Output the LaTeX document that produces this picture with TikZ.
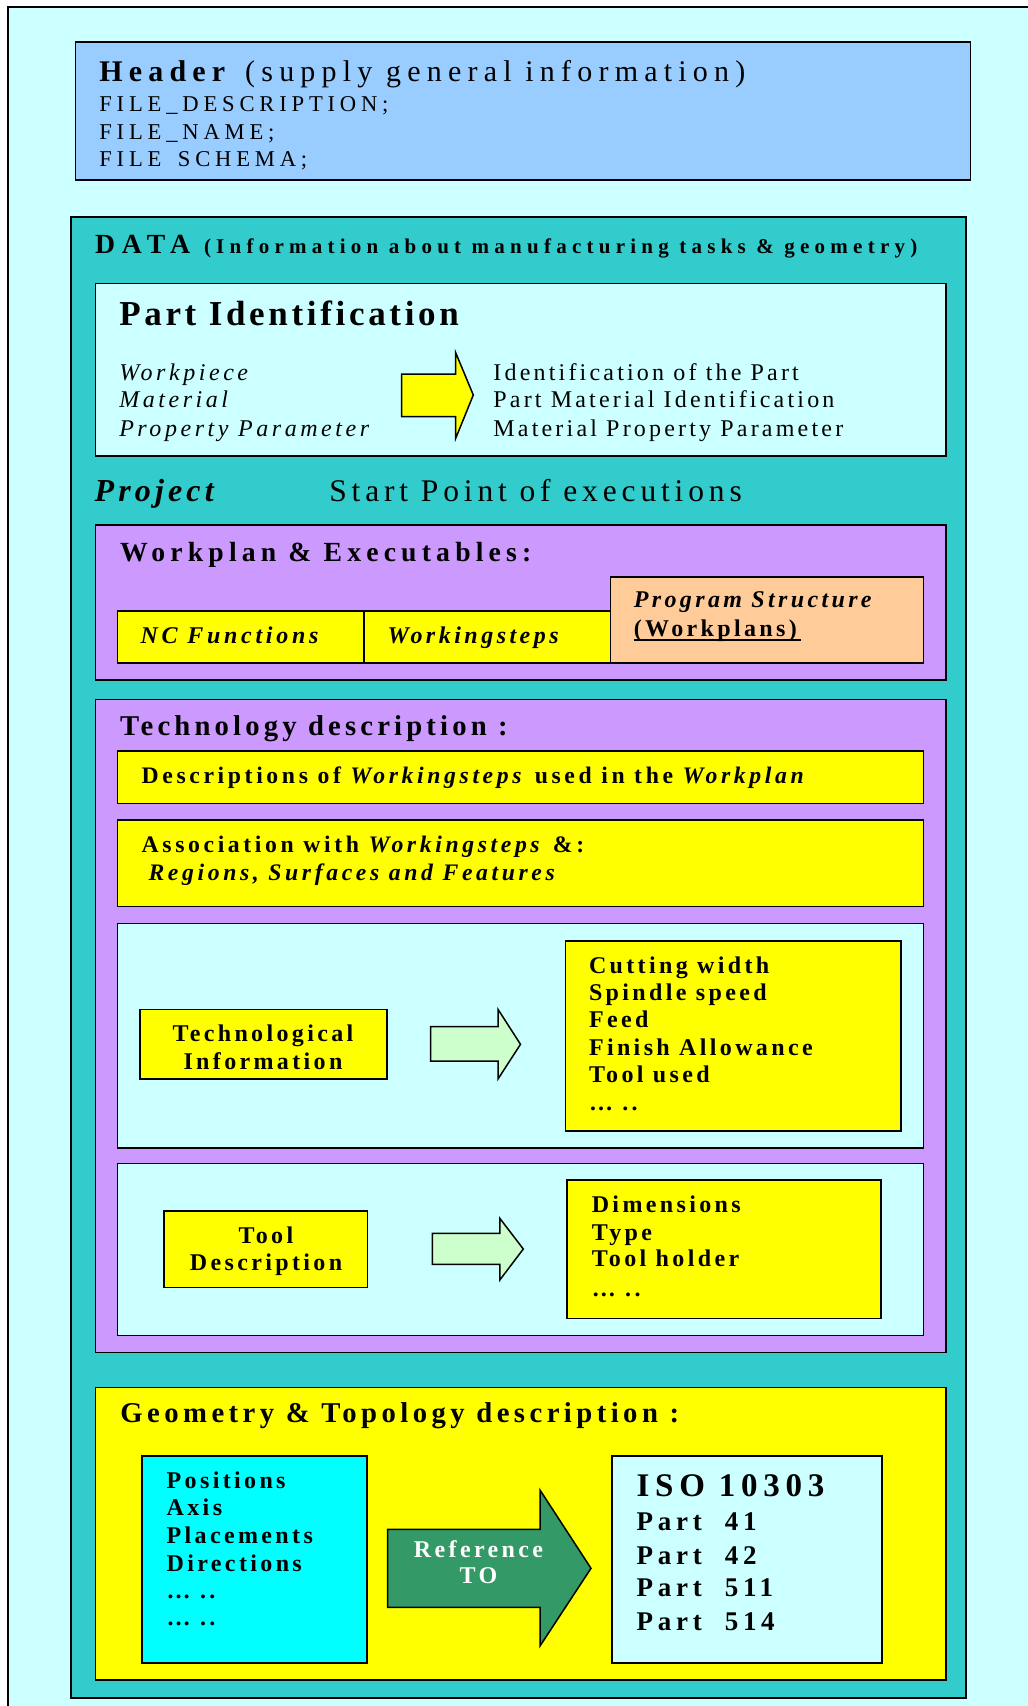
\documentclass[tikz,border=0pt]{standalone}
\usepackage{fontspec}
\setmainfont{Liberation Serif}
% size (pt) and tracking (percent of the size)
\newcommand\fz[2]{\fontsize{#1}{#1}\selectfont\addfontfeatures{LetterSpace=#2}}
% rectangle node given by its top-left and bottom-right corners
\newcommand\boxat[6]{\node[#2, anchor=north west, minimum width={(#5)-(#3)}, minimum height={(#6)-(#4)}] (#1) at (#3,#4) {};}
\definecolor{bgcyan}{HTML}{CCFFFF}
\definecolor{headblue}{HTML}{99CCFF}
\definecolor{dataTeal}{HTML}{33CCCC}
\definecolor{lilac}{HTML}{CC99FF}
\definecolor{peach}{HTML}{FFCC99}
\definecolor{paleGreen}{HTML}{CCFFCC}
\definecolor{brightCyan}{HTML}{00FFFF}
\definecolor{refGreen}{HTML}{339966}
\definecolor{brightYellow}{HTML}{FFFF00}
\begin{document}
\begin{tikzpicture}[x=1pt,y=-1pt,
  frame/.style={draw=black, line width=1.6pt, inner sep=0pt, outer sep=0pt},
  t/.style={anchor=base west, inner sep=0pt, outer sep=0pt},
  tc/.style={anchor=base, inner sep=0pt, outer sep=0pt},
  blockarrow/.style={draw=black, line width=1.5pt, line join=miter},
  bodytext/.style={font=\fz{24}{14}\bfseries}]

\useasboundingbox (0,0) rectangle (1028,1706);
\fill[white] (0,0) rectangle (1028,1706);
\begin{scope}
  \clip (0,0) rectangle (1028,1706);
  \draw[fill=bgcyan, line width=2pt] (7.5,7) rectangle (1040,1720);
\end{scope}

% ---------- boxes ----------
\boxat{header}{frame, fill=headblue}{75.4}{41.7}{970.5}{180}
\boxat{data}{frame, fill=dataTeal}{70.7}{216.7}{966}{1697.7}
\boxat{partid}{frame, fill=bgcyan}{95.5}{283.5}{945.8}{456}
\boxat{workplan}{frame, fill=lilac}{95.5}{525}{946}{680}
\boxat{progstruct}{frame, fill=peach}{610.3}{576.7}{923.5}{663}
\boxat{ncfun}{frame, fill=brightYellow}{117.6}{611}{364}{663}
\boxat{wsteps}{frame, fill=brightYellow}{364}{611}{610.3}{663}
\boxat{tech}{frame, fill=lilac}{95.5}{699.5}{946}{1352.3}
\boxat{descr}{frame, fill=brightYellow}{117.3}{751}{923.5}{803.3}
\boxat{assoc}{frame, fill=brightYellow}{117.3}{820}{923.5}{906.5}
\boxat{tiregion}{frame, fill=bgcyan}{117.3}{923.3}{923.5}{1147.7}
\boxat{tibox}{frame, fill=brightYellow}{140}{1009.3}{387}{1079}
\boxat{tilist}{frame, fill=brightYellow}{565.4}{940.7}{901}{1130.7}
\boxat{toolregion}{frame, fill=bgcyan}{117.3}{1163.3}{923.5}{1335.5}
\boxat{toolbox}{frame, fill=brightYellow}{164.2}{1210.7}{367.3}{1287.3}
\boxat{toollist}{frame, fill=brightYellow}{567}{1180}{880.8}{1318.3}
\boxat{geom}{frame, fill=brightYellow}{95.5}{1387.3}{946}{1680}
\boxat{positions}{frame, fill=brightCyan}{141.7}{1456}{366.7}{1663}
\boxat{iso}{frame, fill=bgcyan}{611.7}{1456}{881.7}{1663}

% ---------- block arrows ----------
\draw[blockarrow, fill=brightYellow] (401.7,374) -- (455.7,374) -- (455.7,352.7) -- (473.3,395)
  -- (455.7,438.3) -- (455.7,416.7) -- (401.7,416.7) -- cycle;
\draw[blockarrow, fill=paleGreen] (430.7,1026.7) -- (498,1026.7) -- (498,1009.3) -- (520.5,1044.3)
  -- (498,1079) -- (498,1061) -- (430.7,1061) -- cycle;
\draw[blockarrow, fill=paleGreen] (432.4,1233.3) -- (499.8,1233.3) -- (499.8,1218.3) -- (523.3,1249)
  -- (499.8,1280) -- (499.8,1264.3) -- (432.4,1264.3) -- cycle;
\draw[blockarrow, fill=refGreen] (387.5,1529.3) -- (540,1529.3) -- (540,1490) -- (591,1568.3)
  -- (540,1646) -- (540,1607.3) -- (387.5,1607.3) -- cycle;

% ---------- header ----------
\node[t, font=\fz{30}{20.7}] (hdrTitle) at (99.3,81.7) {\textbf{Header} (supply general information)};
\node[t, font=\fz{22.6}{21.3}] (hdrA) at (99.3,111.7) {FILE\_DESCRIPTION;};
\node[t, font=\fz{22.6}{21.3}] (hdrB) at (99.3,139) {FILE\_NAME;};
\node[t, font=\fz{22.6}{21.3}] (hdrC) at (99.3,166.5) {FILE\kern6pt\ SCHEMA;};

% ---------- data ----------
\node[t, font=\fz{27.7}{25}\bfseries] (dataTitle) at (95,253.3)
  {DATA {\fz{21}{25}(Information about manufacturing tasks \& geometry)}};

\node[t, font=\fz{35}{10.5}\bfseries] (partTitle) at (119.3,325) {Part Identification};
\node[t, font=\fz{24}{14.8}\itshape] (pA) at (119.3,380) {Workpiece};
\node[t, font=\fz{24}{14.8}\itshape] (pB) at (119.3,407.7) {Material};
\node[t, font=\fz{24}{14.8}\itshape] (pC) at (119.3,436) {Property Parameter};
\node[t, font=\fz{24}{13.3}] (qA) at (493.4,380) {Identification of the Part};
\node[t, font=\fz{24}{13.3}] (qB) at (493.4,407.7) {Part Material Identification};
\node[t, font=\fz{24}{13.3}] (qC) at (493.4,436) {Material Property Parameter};

\node[t, font=\fz{32}{13}\bfseries\itshape] (project) at (94.6,501.5) {Project};
\node[t, font=\fz{31.5}{15.4}] (startPt) at (329.3,501.5) {Start Point of executions};

% ---------- workplan ----------
\node[t, font=\fz{27.7}{18.7}\bfseries] (wpTitle) at (120,561.7) {Workplan \& Executables:};
\node[t, font=\fz{24}{15.5}\bfseries\itshape] (ncText) at (140.6,643.3) {NC Functions};
\node[t, font=\fz{24}{14.5}\bfseries\itshape] (wsText) at (387.5,643.3) {Workingsteps};
\node[t, font=\fz{24}{14}\bfseries\itshape] (psA) at (633.9,607.3) {Program Structure};
\node[t, font=\fz{24}{14}\bfseries] (psB) at (633.9,636) {(Workplans)};
\draw[line width=2.4pt] (633.9,640) -- (801,640);

% ---------- technology ----------
\node[t, font=\fz{28.7}{14.5}\bfseries] (techTitle) at (120,735) {Technology description :};
\node[t, font=\fz{23.7}{15.3}\bfseries] (descrText) at (141.7,783.3)
  {Descriptions of \textit{Workingsteps} used in the \textit{Workplan}};
\node[t, font=\fz{23.7}{15.3}\bfseries] (assocA) at (141.7,852.3) {Association with \textit{Workingsteps} \&:};
\node[t, font=\fz{23.7}{15.3}\bfseries\itshape] (assocB) at (148.5,880) {Regions, Surfaces and Features};

\node[tc, bodytext] (tiA) at (263,1041.7) {Technological};
\node[tc, bodytext] (tiB) at (263,1069) {Information};
\node[t, bodytext] (tlA) at (589,973.3) {Cutting width};
\node[t, bodytext] (tlB) at (589,1000) {Spindle speed};
\node[t, bodytext] (tlC) at (589,1027.3) {Feed};
\node[t, bodytext] (tlD) at (589,1055) {Finish Allowance};
\node[t, bodytext] (tlE) at (589,1082.3) {Tool used};
\node[t, bodytext] (tlF) at (589,1110.7) {… ..};

\node[tc, bodytext] (tdA) at (266,1243.3) {Tool};
\node[tc, bodytext] (tdB) at (266,1270.7) {Description};
\node[t, bodytext] (dlA) at (591.8,1212.3) {Dimensions};
\node[t, bodytext] (dlB) at (591.8,1240) {Type};
\node[t, bodytext] (dlC) at (591.8,1266.7) {Tool holder};
\node[t, bodytext] (dlD) at (591.8,1296) {… ..};

% ---------- geometry ----------
\node[t, font=\fz{28.7}{15.5}\bfseries] (geomTitle) at (120.4,1422.7) {Geometry \& Topology description :};
\node[t, bodytext] (gA) at (166.7,1488.3) {Positions};
\node[t, bodytext] (gB) at (166.7,1515.7) {Axis};
\node[t, bodytext] (gC) at (166.7,1543.3) {Placements};
\node[t, bodytext] (gD) at (166.7,1571) {Directions};
\node[t, bodytext] (gE) at (166.7,1598) {… ..};
\node[t, bodytext] (gF) at (166.7,1625) {… ..};

\node[tc, bodytext, text=white] (refA) at (478.5,1557.3) {Reference};
\node[tc, bodytext, text=white] (refB) at (478.5,1583.3) {TO};

\node[t, font=\fz{33}{17.3}\bfseries] (isoTitle) at (636.7,1496.7) {ISO 10303};
\node[t, font=\fz{27}{17.5}\bfseries] (isoA) at (636.7,1530.7) {Part\ \ 41};
\node[t, font=\fz{27}{17.5}\bfseries] (isoB) at (636.7,1564) {Part\ \ 42};
\node[t, font=\fz{27}{17.5}\bfseries] (isoC) at (636.7,1596.7) {Part\ \ 511};
\node[t, font=\fz{27}{17.5}\bfseries] (isoD) at (636.7,1630.7) {Part\ \ 514};
\end{tikzpicture}
\end{document}
